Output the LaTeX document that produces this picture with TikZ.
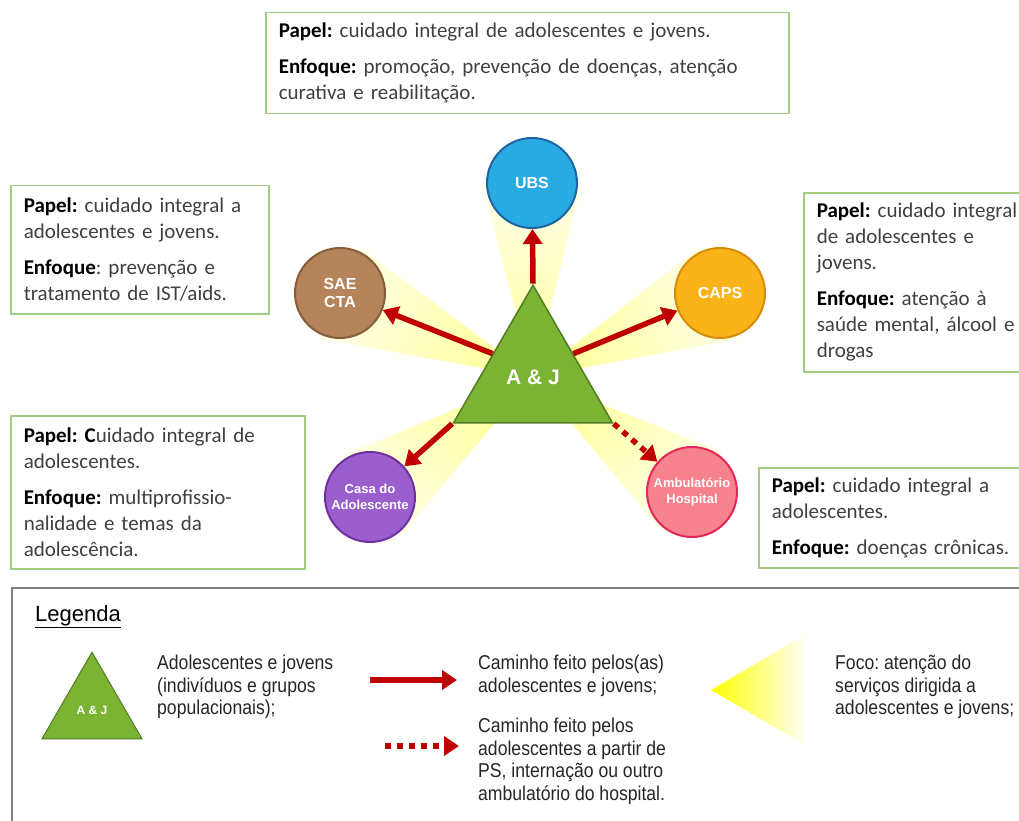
\documentclass[tikz,border=0pt]{standalone}
\usepackage{fontspec}
\setmainfont{Carlito}
\newfontfamily\arialf{Liberation Sans}
\newfontfamily\legf[FakeStretch=0.88]{Liberation Sans}
\usetikzlibrary{positioning, shapes.geometric, calc, arrows.meta, backgrounds}
\frenchspacing

\definecolor{bordaverde}{RGB}{160,205,130}
\definecolor{textocinza}{RGB}{64,64,64}
\definecolor{vermelho}{RGB}{192,0,0}
\definecolor{verdeaj}{RGB}{122,180,50}
\definecolor{verdeborda}{RGB}{80,125,35}
\definecolor{azulubs}{RGB}{41,170,226}
\definecolor{azulborda}{RGB}{30,100,160}
\definecolor{marromsae}{RGB}{181,132,90}
\definecolor{marromborda}{RGB}{135,92,58}
\definecolor{laranjacaps}{RGB}{250,180,25}
\definecolor{laranjaborda}{RGB}{215,140,10}
\definecolor{roxocasa}{RGB}{155,95,205}
\definecolor{roxoborda}{RGB}{112,48,160}
\definecolor{rosaamb}{RGB}{245,130,140}
\definecolor{rosaborda}{RGB}{225,40,90}
\definecolor{cinzaleg}{RGB}{128,128,128}

\begin{document}
\begin{tikzpicture}[x=1pt, y=1pt]
	% estilos
	\tikzstyle{caixa} = [draw=bordaverde, line width=1.5pt, fill=white, anchor=north west, align=left, inner xsep=13pt, inner ysep=0pt, text=textocinza, font=\fontsize{21}{26}\selectfont]
	\tikzstyle{servico} = [circle, minimum size=90pt, line width=2pt, text=white, align=center, inner sep=0pt, font=\arialf\bfseries\fontsize{16}{18}\selectfont]
	\tikzstyle{seta} = [line width=5.5pt, draw=vermelho, -{Triangle[length=15pt, width=19pt]}]
	\tikzstyle{foco} = [top color=yellow!8, bottom color=yellow!40]
	\tikzstyle{legtexto} = [anchor=north west, align=left, inner sep=0pt, text=black!85, font=\legf\fontsize{20}{22.5}\selectfont]
	
	\useasboundingbox (0,0) rectangle (1019,-821);
	\clip (0,0) rectangle (1019,-821);
	
	% caixas de texto
	\node [caixa, text width=497pt, minimum height=101pt] (caixaubs) at (265,-12) {\textbf{\color{black}Papel:} cuidado integral de adolescentes e jovens.\\[10pt]\textbf{\color{black}Enfoque:} promoção, prevenção de doenças, atenção\\curativa e reabilitação.};
	\node [caixa, text width=232pt, minimum height=128pt] (caixasae) at (10,-185) {\textbf{\color{black}Papel:} cuidado integral a\\adolescentes e jovens.\\[10pt]\textbf{\color{black}Enfoque}: prevenção e\\tratamento de IST/aids.};
	\node [caixa, text width=214pt, minimum height=179pt] (caixacaps) at (803,-192) {\textbf{\color{black}Papel:} cuidado integral\\de adolescentes e\\jovens.\\[10pt]\textbf{\color{black}Enfoque:} atenção à\\saúde mental, álcool e\\drogas};
	\node [caixa, text width=268pt, minimum height=153pt] (caixacasa) at (10,-415) {\textbf{\color{black}Papel:} \textbf{\color{black}C}uidado integral de\\adolescentes.\\[10pt]\textbf{\color{black}Enfoque:} multiprofissio-\\nalidade e temas da\\adolescência.};
	\node [caixa, text width=254pt, minimum height=100pt] (caixaamb) at (758,-467) {\textbf{\color{black}Papel:} cuidado integral a\\adolescentes.\\[10pt]\textbf{\color{black}Enfoque:} doenças crônicas.};
	
	% servicos
	\node [servico, fill=azulubs, draw=azulborda] (ubs) at (532,-183) {UBS};
	\node [servico, fill=marromsae, draw=marromborda] (sae) at (340,-293) {SAE\\CTA};
	\node [servico, fill=laranjacaps, draw=laranjaborda] (caps) at (720,-293) {CAPS};
	\node [servico, fill=roxocasa, draw=roxoborda, font=\arialf\bfseries\fontsize{13}{16}\selectfont] (casa) at (370,-497) {Casa do\\Adolescente};
	\node [servico, fill=rosaamb, draw=rosaborda, font=\arialf\bfseries\fontsize{13}{16}\selectfont] (amb) at (692,-492) {Ambulatório\\Hospital};
	
	% adolescentes e jovens
	\node [regular polygon, regular polygon sides=3, minimum size=183.6pt, inner sep=0pt, fill=verdeaj, draw=verdeborda, line width=1.5pt, text=white, font=\arialf\bfseries\fontsize{21}{24}\selectfont] (aj) at (533,-377) {A \& J};
	
	% focos
	\begin{scope}[on background layer]
		\shade[foco, shading angle=0] (aj.center) -- ($(ubs)!50pt!90:(aj)$) -- ($(ubs)!50pt!-90:(aj)$) -- cycle;
		\shade[foco, shading angle=72] (aj.center) -- ($(sae)!50pt!90:(aj)$) -- ($(sae)!50pt!-90:(aj)$) -- cycle;
		\shade[foco, shading angle=-72] (aj.center) -- ($(caps)!50pt!90:(aj)$) -- ($(caps)!50pt!-90:(aj)$) -- cycle;
		\shade[foco, shading angle=131] (aj.center) -- ($(casa)!50pt!90:(aj)$) -- ($(casa)!50pt!-90:(aj)$) -- cycle;
		\shade[foco, shading angle=229] (aj.center) -- ($(amb)!50pt!90:(aj)$) -- ($(amb)!50pt!-90:(aj)$) -- cycle;
	\end{scope}
	
	% caminhos
	\draw [seta] (aj.corner 1) -- (ubs);
	\draw [seta] (aj.side 1) -- (sae);
	\draw [seta] (aj.side 3) -- (caps);
	\draw [seta] (aj.corner 2) -- (casa);
	\draw [seta, dash pattern=on 6pt off 6pt] (aj.corner 3) -- (amb);
	
	% legenda
	\draw [draw=cinzaleg, line width=1.5pt] (12,-588) rectangle (1030,-830);
	\node [anchor=base west, inner sep=0pt, font=\arialf\fontsize{22}{24}\selectfont] (legenda) at (35,-621) {\underline{Legenda}};
	\node [regular polygon, regular polygon sides=3, minimum size=115.5pt, inner sep=0pt, fill=verdeaj, draw=verdeborda, line width=1pt, text=white, font=\arialf\bfseries\fontsize{12}{14}\selectfont] (legaj) at (92,-710) {A \& J};
	\node [legtexto] (legaltext) at (157,-655) {Adolescentes e jovens\\(indivíduos e grupos\\populacionais);};
	
	\coordinate (setainicio) at (370,-680);
	\coordinate (setafim) at (457,-680);
	\draw [seta] (setainicio) -- (setafim);
	\node [legtexto] (legcaminho) at (478,-655) {Caminho feito pelos(as)\\adolescentes e jovens;};
	
	\coordinate (pontoinicio) at (385,-746);
	\coordinate (pontofim) at (459,-746);
	\draw [seta, dash pattern=on 6pt off 6pt] (pontoinicio) -- (pontofim);
	\node [legtexto] (legps) at (478,-718) {Caminho feito pelos\\adolescentes a partir de\\PS, internação ou outro\\ambulatório do hospital.};
	
	\shade [left color=yellow, right color=yellow!4] (711,-690) -- (805,-635) -- (805,-745) -- cycle;
	\node [legtexto] (legfoco) at (835,-655) {Foco: atenção do\\serviços dirigida a\\adolescentes e jovens;};
\end{tikzpicture}
\end{document}
